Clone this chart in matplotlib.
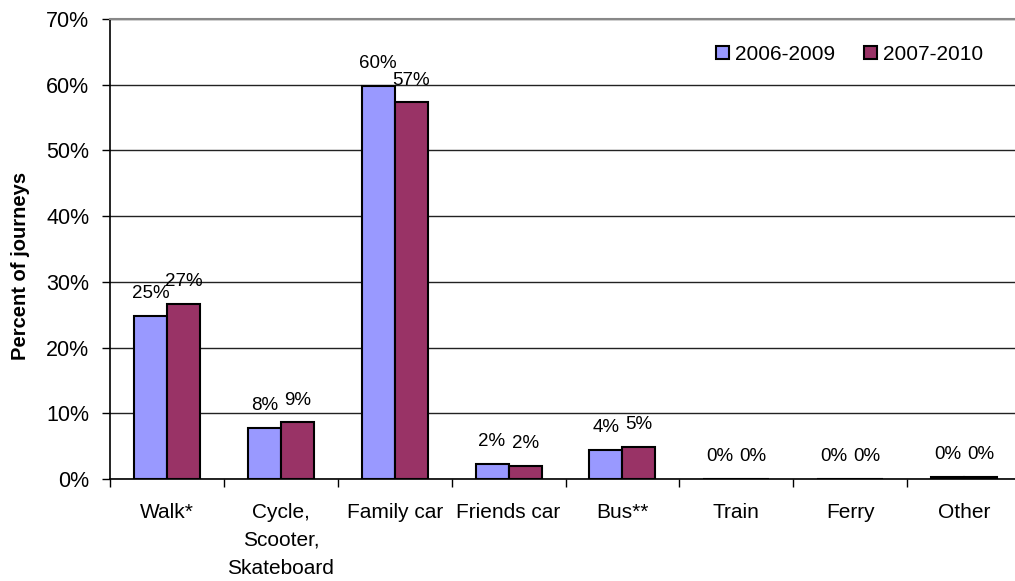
import matplotlib.pyplot as plt
import numpy as np

plt.rcParams['font.family'] = ['Liberation Sans', 'DejaVu Sans']

# Data
categories = ['Walk*', 'Cycle,\nScooter,\nSkateboard', 'Family car', 'Friends car',
              'Bus**', 'Train', 'Ferry', 'Other']
series_names = ['2006-2009', '2007-2010']
share_2006_2009 = [24.8, 7.8, 59.8, 2.3, 4.4, 0.0, 0.0, 0.3]
share_2007_2010 = [26.6, 8.6, 57.3, 2.0, 4.9, 0.0, 0.0, 0.3]
y_ticks = [0, 10, 20, 30, 40, 50, 60, 70]

colors = ['#9999FF', '#993366']

fig = plt.figure(figsize=(10.15, 5.81), dpi=100)
ax = fig.add_axes([110 / 1015, 1 - 479 / 581, 911 / 1015, 460 / 581])

x = np.arange(len(categories))
width = 0.29

for i, (vals, name, col) in enumerate(zip([share_2006_2009, share_2007_2010], series_names, colors)):
    pos = x + (i - 0.5) * width
    bars = ax.bar(pos, vals, width, color=col, edgecolor='black', linewidth=1.5,
                  label=name, zorder=3)
    for b, v in zip(bars, vals):
        ax.annotate(f'{v:.0f}%', (b.get_x() + b.get_width() / 2, v),
                    xytext=(0, 10), textcoords='offset points',
                    ha='center', va='bottom', fontsize=13.5)

# Axes limits and ticks
ax.set_xlim(-0.5, len(categories) - 0.5)
ax.set_ylim(0, 70)
ax.set_yticks(y_ticks)
ax.set_yticklabels([f'{t}%' for t in y_ticks], fontsize=15.5)
ax.set_xticks(x)
ax.set_xticklabels(categories, fontsize=15, linespacing=1.6, va='top')
ax.set_xticks(np.arange(len(categories) + 1) - 0.5, minor=True)
ax.tick_params(axis='x', which='major', length=0, pad=17)
ax.tick_params(axis='x', which='minor', length=6, width=1)
ax.tick_params(axis='y', length=6, width=1, pad=9)

# Gridlines
ax.yaxis.grid(True, color='#222222', linewidth=1, zorder=0)
ax.set_axisbelow(True)

for s in ['left', 'bottom']:
    ax.spines[s].set_linewidth(1.2)
    ax.spines[s].set_color('black')
ax.spines['top'].set_color('#888888')
ax.spines['top'].set_linewidth(1.5)
ax.spines['right'].set_visible(False)

fig.text(21 / 1015, 1 - 266 / 581, 'Percent of journeys', rotation=90,
         ha='center', va='center', fontsize=14.5, fontweight='bold')

ax.legend(loc='upper left', bbox_to_anchor=(0.645, 0.985), frameon=False,
          ncol=2, fontsize=15, handlelength=0.6, handleheight=0.6,
          handletextpad=0.3, columnspacing=1.4)

fig.savefig('out.png', dpi=100)
